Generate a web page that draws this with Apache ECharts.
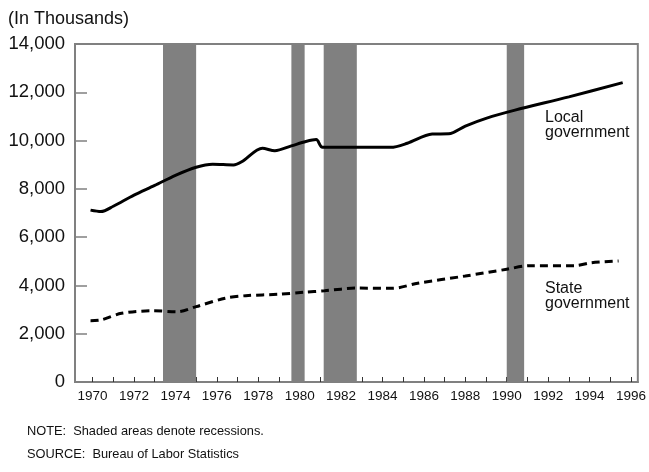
<!DOCTYPE html>
<html>
<head>
<meta charset="utf-8">
<script src="https://cdn.jsdelivr.net/npm/echarts@6/dist/echarts.min.js"></script>
<style>html,body{margin:0;padding:0;background:#fff;}#c{width:649px;height:472px;}</style>
</head>
<body>
<div id="c"></div>
<script>
// ---- data ----
const localYears = [1969.9, 1970.4, 1971, 1972, 1973, 1974, 1975, 1975.8, 1976.8, 1977.2, 1978.2, 1978.8, 1979.6, 1980.3, 1980.8, 1981.1, 1982.5, 1984.4, 1985.2, 1986.4, 1987.2, 1988, 1989, 1990.4, 1993, 1995.6];
const localValues = [7120, 7060, 7280, 7740, 8140, 8560, 8895, 9020, 8990, 9120, 9680, 9580, 9780, 9960, 10040, 9720, 9720, 9720, 9890, 10270, 10280, 10600, 10920, 11260, 11810, 12400];
const stateYears = [1969.9, 1970.4, 1971.4, 1972.9, 1974.1, 1975, 1976.4, 1977.4, 1979, 1980.2, 1981.2, 1982.8, 1984.5, 1985.7, 1988, 1990, 1991.1, 1993.3, 1994.1, 1995.4];
const stateValues = [2540, 2570, 2845, 2950, 2910, 3120, 3470, 3575, 3635, 3715, 3780, 3890, 3880, 4090, 4390, 4670, 4820, 4820, 4940, 5010];
const recessions = [[1973.4, 1975.0], [1979.6, 1980.24], [1981.16, 1982.76], [1990.0, 1990.84]];
const xTickYears = [1970,1971,1972,1973,1974,1975,1976,1977,1978,1979,1980,1981,1982,1983,1984,1985,1986,1987,1988,1989,1990,1991,1992,1993,1994,1995,1996];
const xLabelYears = [1970,1972,1974,1976,1978,1980,1982,1984,1986,1988,1990,1992,1994,1996];

const FONT = 'Liberation Sans';
const chart = echarts.init(document.getElementById('c'), null, {renderer: 'canvas'});
chart.setOption({
  animation: false,
  backgroundColor: '#fff',
  grid: {left: 75, top: 44, right: 6, bottom: 90, show: true, borderColor: '#808080', borderWidth: 2, backgroundColor: 'transparent'},
  xAxis: {
    type: 'value', min: 1969.15, max: 1996.33,
    axisLine: {show: true, lineStyle: {color: '#808080', width: 2}},
    axisTick: {show: true, inside: true, length: 5, customValues: xTickYears, lineStyle: {color: '#333', width: 1}},
    axisLabel: {customValues: xLabelYears, formatter: v => String(v), color: '#111', fontFamily: FONT, fontSize: 13.5, margin: 7},
    splitLine: {show: false}
  },
  yAxis: {
    type: 'value', min: 0, max: 14000, interval: 2000,
    axisLine: {show: true, lineStyle: {color: '#808080', width: 2}},
    axisTick: {show: true, inside: true, length: 12, lineStyle: {color: '#808080', width: 1.5}},
    axisLabel: {color: '#111', fontFamily: FONT, fontSize: 18.5, margin: 10,
      formatter: v => v.toLocaleString('en-US')},
    splitLine: {show: false}
  },
  series: [
    {
      type: 'line', name: 'recessions', data: [], z: 1,
      markArea: {silent: true, itemStyle: {color: '#808080'},
        data: recessions.map(r => [{xAxis: r[0]}, {xAxis: r[1]}])}
    },
    {
      type: 'line', name: 'Local government', z: 3,
      data: localYears.map((y, i) => [y, localValues[i]]),
      smooth: 0.3, showSymbol: false,
      lineStyle: {color: '#000', width: 3}
    },
    {
      type: 'line', name: 'State government', z: 3,
      data: stateYears.map((y, i) => [y, stateValues[i]]),
      smooth: 0.3, showSymbol: false,
      lineStyle: {color: '#000', width: 3, type: [8, 5]}
    }
  ],
  graphic: [
    {type: 'text', left: 8, top: 10, style: {text: '(In Thousands)', font: '18px "Liberation Sans"', fill: '#111'}},
    {type: 'text', left: 545, top: 110, style: {text: 'Local\ngovernment', font: '16px "Liberation Sans"', lineHeight: 15, fill: '#111'}},
    {type: 'text', left: 545, top: 281, style: {text: 'State\ngovernment', font: '16px "Liberation Sans"', lineHeight: 15, fill: '#111'}},
    {type: 'text', left: 27, top: 425, style: {text: 'NOTE:  Shaded areas denote recessions.', font: '12.8px "Liberation Sans"', fill: '#111'}},
    {type: 'text', left: 27, top: 448, style: {text: 'SOURCE:  Bureau of Labor Statistics', font: '12.8px "Liberation Sans"', fill: '#111'}}
  ]
});
</script>
</body>
</html>
